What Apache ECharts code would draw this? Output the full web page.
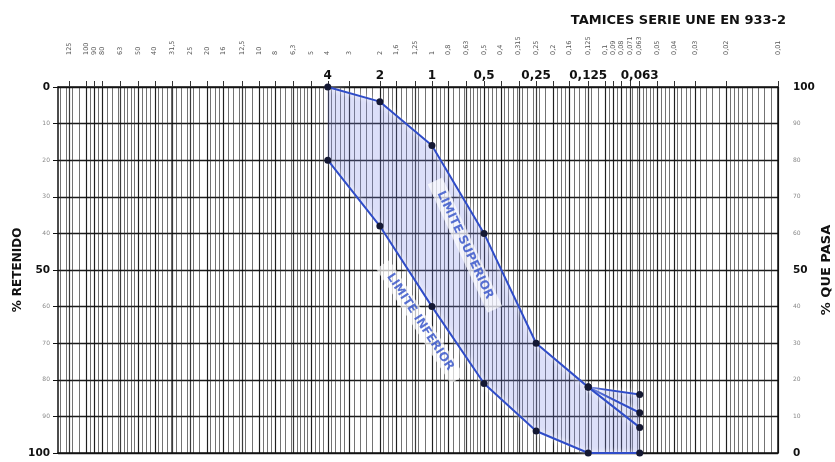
<!DOCTYPE html>
<html><head><meta charset="utf-8">
<script src="https://cdn.jsdelivr.net/npm/echarts@6/dist/echarts.min.js"></script>
<style>html,body{margin:0;padding:0;background:#fff}#c{width:835px;height:462px}</style>
</head><body><div id="c"></div>
<script>
// ---- data ----
const chartTitle = 'TAMICES SERIE UNE EN 933-2';
const mainSieves = [4, 2, 1, 0.5, 0.25, 0.125, 0.063];
const upperPass = [100, 96, 84, 60, 30, 18, 16];
const lowerPass = [80, 62, 40, 19, 6, 0, 0];
const branchEndPass = [11, 7];
const sieveTickLabels = [125, 100, 90, 80, 63, 50, 40, 31.5, 25, 20, 16, 12.5, 10, 8, 6.3, 5, 4, 3, 2,
  1.6, 1.25, 1, 0.8, 0.63, 0.5, 0.4, 0.315, 0.25, 0.2, 0.16, 0.125, 0.1, 0.09, 0.08, 0.071, 0.063,
  0.05, 0.04, 0.03, 0.02, 0.01];
const yTicks = [0, 10, 20, 30, 40, 50, 60, 70, 80, 90, 100];
const bandLabels = ['LIMITE SUPERIOR', 'LIMITE INFERIOR'];
const bandLabelSieve = [0.645, 1.17];
const bandLabelPass = [56.8, 35.8];
const bandLabelAngle = [-65, -57];
// log-paper grid mantissas (styling of the paper)
const gridMantissas = [1, 1.1, 1.2, 1.3, 1.4, 1.5, 1.6, 1.7, 1.8, 1.9, 2, 2.2, 2.4, 2.6, 2.8, 3, 3.2, 3.4, 3.6, 3.8,
  4, 4.25, 4.5, 4.75, 5, 5.25, 5.5, 5.75, 6, 6.5, 7, 7.5, 8, 8.5, 9, 9.5];
const gridDecades = [0.01, 0.1, 1, 10, 100];

const xMin = 0.01, xMax = 145;
const FF = 'DejaVu Sans';
const fmt = v => String(+Number(v).toPrecision(6)).replace('.', ',');
const fineGrid = gridDecades.flatMap(d => gridMantissas.map(m => +(m * d).toPrecision(6))).filter(v => v <= xMax && v >= xMin);
const upperData = mainSieves.map((s, i) => [s, upperPass[i]]);
const lowerData = mainSieves.map((s, i) => [s, lowerPass[i]]);
const rect = { left: 58, right: 57, top: 87, bottom: 9, containLabel: false, outerBoundsMode: 'none' };
const yRich = {
  b: { fontFamily: FF, fontSize: 10.5, fontWeight: 'bold', color: '#111' },
  s: { fontFamily: FF, fontSize: 6, color: '#888' }
};
const yFmt = v => (v % 50 === 0 ? '{b|' + v + '}' : '{s|' + v + '}');

const lineStyle = { color: '#2f4cc8', width: 2, shadowColor: 'rgba(255,255,255,0.95)', shadowBlur: 5 };
const dot = { color: '#141833' };

const chart = echarts.init(document.getElementById('c'));
chart.setOption({
  animation: false,
  backgroundColor: '#fff',
  title: { text: chartTitle, right: 44, top: 9, textStyle: { fontFamily: FF, fontSize: 13, fontWeight: 'bold', color: '#111' } },
  grid: [Object.assign({}, rect), Object.assign({}, rect)],
  xAxis: [
    { type: 'log', gridIndex: 0, position: 'top', inverse: true, min: xMin, max: xMax,
      axisLine: { show: true, lineStyle: { color: '#111', width: 1.5 } },
      axisTick: { show: true, customValues: sieveTickLabels, length: 6, lineStyle: { color: '#333' } },
      axisLabel: { customValues: mainSieves, formatter: fmt, margin: 5, fontFamily: FF, fontWeight: 'bold', fontSize: 12, color: '#111' },
      splitLine: { show: false } },
    { type: 'log', gridIndex: 0, position: 'bottom', inverse: true, min: xMin, max: xMax,
      axisLine: { show: true, lineStyle: { color: '#111', width: 1.5 } },
      axisTick: { show: false, customValues: fineGrid },
      axisLabel: { show: false },
      splitLine: { show: true, lineStyle: { color: 'rgba(40,40,40,0.65)', width: 1 } } },
    { type: 'log', gridIndex: 1, position: 'top', inverse: true, min: xMin, max: xMax,
      axisLine: { show: false },
      axisTick: { show: false, customValues: sieveTickLabels },
      axisLabel: { customValues: sieveTickLabels, formatter: fmt, rotate: 90, margin: 32, fontFamily: FF, fontSize: 6.5, color: '#555' },
      splitLine: { show: true, lineStyle: { color: 'rgba(10,10,10,0.8)', width: 1.2 } } }
  ],
  yAxis: [
    { type: 'value', gridIndex: 0, position: 'left', inverse: true, min: 0, max: 100, interval: 10,
      name: '% RETENIDO', nameLocation: 'middle', nameGap: 34, nameRotate: 90, nameMoveOverlap: false,
      nameTextStyle: { fontFamily: FF, fontWeight: 'bold', fontSize: 12, color: '#111' },
      axisLine: { show: true, lineStyle: { color: '#111', width: 1.5 } },
      axisTick: { show: true, length: 5, lineStyle: { color: '#111' } },
      axisLabel: { margin: 8, formatter: yFmt, rich: yRich },
      splitLine: { show: true, lineStyle: { color: '#1a1a1a', width: 1.3 } } },
    { type: 'value', gridIndex: 0, position: 'right', min: 0, max: 100, interval: 10,
      name: '% QUE PASA', nameLocation: 'middle', nameGap: 42, nameRotate: 90, nameMoveOverlap: false,
      nameTextStyle: { fontFamily: FF, fontWeight: 'bold', fontSize: 13, color: '#111' },
      axisLine: { show: true, lineStyle: { color: '#111', width: 1.5 } },
      axisTick: { show: false },
      axisLabel: { margin: 15, formatter: yFmt, rich: yRich },
      splitLine: { show: false } },
    { type: 'value', gridIndex: 1, show: false, min: 0, max: 100 }
  ],
  series: [
    { type: 'custom', xAxisIndex: 0, yAxisIndex: 1, z: 1, silent: true,
      data: [upperData[0]],
      renderItem: (params, api) => {
        const pts = upperData.map(p => api.coord(p)).concat(lowerData.slice().reverse().map(p => api.coord(p)));
        return { type: 'polygon', shape: { points: pts }, style: { fill: 'rgba(125,135,232,0.27)' } };
      } },
    { type: 'line', name: 'upper', xAxisIndex: 0, yAxisIndex: 1, z: 3, data: upperData,
      symbol: 'circle', symbolSize: 7, itemStyle: dot, lineStyle: lineStyle },
    { type: 'line', name: 'lower', xAxisIndex: 0, yAxisIndex: 1, z: 3, data: lowerData,
      symbol: 'circle', symbolSize: 7, itemStyle: dot, lineStyle: lineStyle },
    ...branchEndPass.map(p => ({ type: 'line', xAxisIndex: 0, yAxisIndex: 1, z: 3,
      data: [[mainSieves[5], upperPass[5]], [mainSieves[6], p]],
      symbol: 'circle', symbolSize: 7, itemStyle: dot, lineStyle: lineStyle })),
    { type: 'scatter', xAxisIndex: 0, yAxisIndex: 1, z: 5, symbolSize: 1, itemStyle: { color: 'transparent' },
      data: bandLabels.map((t, i) => ({
        value: [bandLabelSieve[i], bandLabelPass[i]],
        label: { show: true, position: 'inside', formatter: t, rotate: bandLabelAngle[i],
          fontFamily: FF, fontWeight: 'bold', fontSize: 12, color: '#2f4fc8',
          backgroundColor: 'rgba(255,255,255,0.85)', padding: [2, 12] }
      })) }
  ]
});
</script></body></html>
